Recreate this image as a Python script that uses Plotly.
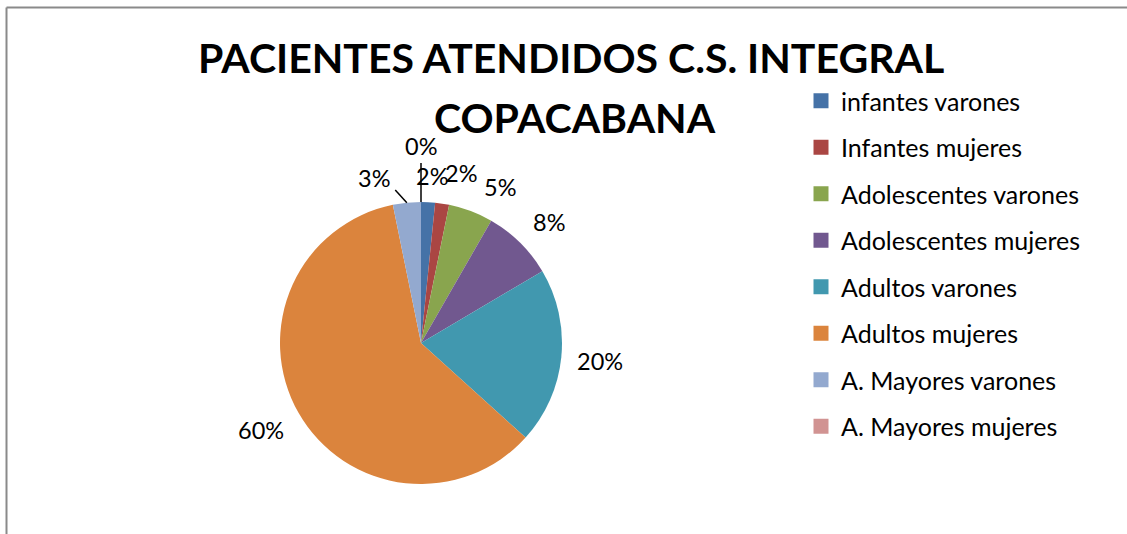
import math
import plotly.graph_objects as go

# ---- data ----
categories = ["infantes varones", "Infantes mujeres", "Adolescentes varones",
              "Adolescentes mujeres", "Adultos varones", "Adultos mujeres",
              "A. Mayores varones", "A. Mayores mujeres"]
values = [1.6, 1.6, 5.1, 8.2, 20.2, 60.1, 3.2, 0.0]
title_lines = ["PACIENTES ATENDIDOS C.S. INTEGRAL", "COPACABANA"]

# ---- style ----
colors = ["#4572A7", "#AA4643", "#89A54E", "#71588F",
          "#4198AF", "#DB843D", "#93A9CF", "#D19392"]
W, H = 1127, 534
CX, CY, R = 421, 343, 141          # pie centre / radius in pixels
LABEL_R = 177                       # distance of label centres
label_nudge = [(2, 10), (13, 5), (16, 10), (4, 5), (3, 0), (-6, -1), (-29, 11), (0, -20)]
leader = [False, False, False, False, False, False, True, True]
FONT = "Lato"

def px(x):
    return x / W

def py(y):
    return 1 - y / H

fig = go.Figure()
fig.add_trace(go.Pie(
    labels=categories, values=values, sort=False, direction="clockwise",
    rotation=0, textinfo="none", hoverinfo="label+percent",
    marker=dict(colors=colors, line=dict(width=0)),
    domain=dict(x=[px(CX - R), px(CX + R)], y=[py(CY + R), py(CY - R)]),
    showlegend=False,
))

# legend entries
for i, (c, col) in enumerate(zip(categories, colors)):
    fig.add_trace(go.Scatter(
        x=[None], y=[None], mode="markers", name=c, legendgroup=f"g{i}",
        marker=dict(symbol="square", size=15, color=col, line=dict(width=0)),
    ))

total = sum(values)
annotations = []
shapes = []
cum = 0.0
for i, v in enumerate(values):
    mid = (cum + v / 2) / total * 2 * math.pi
    cum += v
    lx = CX + LABEL_R * math.sin(mid) + label_nudge[i][0]
    ly = CY - LABEL_R * math.cos(mid) + label_nudge[i][1]
    pct = round(v / total * 100)
    annotations.append(dict(
        x=px(lx), y=py(ly), xref="paper", yref="paper", text=f"{pct}%",
        showarrow=False, xanchor="center", yanchor="middle",
        font=dict(family=FONT, size=23.5, color="#000000"),
    ))
    if leader[i]:
        ex = CX + R * math.sin(mid)
        ey = CY - R * math.cos(mid)
        if abs(lx - ex) < 3:
            tx, ty = ex, ly + 17
        else:
            tx, ty = lx + 21, ly + 12
        shapes.append(dict(type="line", xref="paper", yref="paper",
                           x0=px(ex), y0=py(ey), x1=px(tx), y1=py(ty),
                           line=dict(color="#000000", width=1.5)))

annotations.append(dict(x=px(571), y=py(57), xref="paper", yref="paper",
                        text=f"<b>{title_lines[0]}</b>", showarrow=False,
                        xanchor="center", yanchor="middle",
                        font=dict(family=FONT, size=41, color="#000000")))
annotations.append(dict(x=px(575), y=py(118), xref="paper", yref="paper",
                        text=f"<b>{title_lines[1]}</b>", showarrow=False,
                        xanchor="center", yanchor="middle",
                        font=dict(family=FONT, size=41, color="#000000")))

# chart frame (top and left edges visible)
shapes.append(dict(type="line", xref="paper", yref="paper",
                   x0=px(6.5), y0=py(7.5), x1=1.0, y1=py(7.5),
                   line=dict(color="#8a8a8a", width=2)))
shapes.append(dict(type="line", xref="paper", yref="paper",
                   x0=px(6.5), y0=py(7.5), x1=px(6.5), y1=0.0,
                   line=dict(color="#8a8a8a", width=2)))

fig.update_layout(
    width=W, height=H, autosize=False,
    margin=dict(l=0, r=0, t=0, b=0),
    paper_bgcolor="white", plot_bgcolor="white",
    xaxis=dict(visible=False), yaxis=dict(visible=False),
    annotations=annotations, shapes=shapes,
    legend=dict(x=px(801), y=py(78), xanchor="left", yanchor="top",
                font=dict(family=FONT, size=25, color="#000000"),
                tracegroupgap=11, itemclick=False, bgcolor="rgba(0,0,0,0)"),
)

fig.write_html("out.html", config={"displayModeBar": False},
               post_script="document.body.style.margin='0';")
